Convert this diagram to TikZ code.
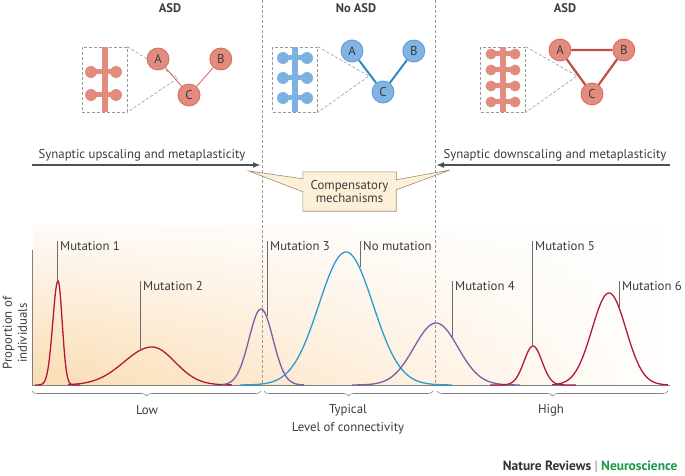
\documentclass[tikz,border=0pt]{standalone}
\usepackage{fontspec}
\setmainfont{PT Sans}
\usepackage{xcolor}
\usetikzlibrary{positioning,arrows.meta,decorations.pathreplacing,fadings,calc}

\definecolor{txtgray}{HTML}{3C3C3C}
\definecolor{nodeR}{HTML}{E38C7D}
\definecolor{nodeRline}{HTML}{D06C60}
\definecolor{nodeB}{HTML}{80B5E3}
\definecolor{nodeBline}{HTML}{5B9AD2}
\definecolor{dendR}{HTML}{E38C7D}
\definecolor{dendB}{HTML}{7DB1E1}
\definecolor{edgeR}{HTML}{D2625B}
\definecolor{edgeRR}{HTML}{C64B45}
\definecolor{edgeB}{HTML}{2C8CC5}
\definecolor{boxgray}{HTML}{9A9A9A}
\definecolor{arrowgray}{HTML}{44525E}
\definecolor{callfill}{HTML}{FDF0D9}
\definecolor{callline}{HTML}{9C8B72}
\definecolor{bgorange}{HTML}{FBDCB2}
\definecolor{mutred}{HTML}{B1193B}
\definecolor{mutpurple}{HTML}{7D5DA7}
\definecolor{mutblue}{HTML}{2C9BD0}
\definecolor{nrgreen}{HTML}{1B9A4B}

\tikzfading[name=topwhite, top color=transparent!10, middle color=transparent!65, bottom color=transparent!100]

\begin{document}
\begin{tikzpicture}[x=1pt,y=-1pt,
  font=\fontsize{12.8}{13.5}\selectfont, text=txtgray,
  neuronR/.style={circle,draw=nodeRline,fill=nodeR,line width=0.8pt,minimum size=22pt,inner sep=0pt},
  neuronB/.style={circle,draw=nodeBline,fill=nodeB,line width=0.8pt,minimum size=22pt,inner sep=0pt},
  zoombox/.style={draw=boxgray,dash pattern=on 3pt off 2pt,line width=0.6pt,minimum width=45pt,minimum height=65pt,inner sep=0pt},
  zoomline/.style={draw=boxgray,dash pattern=on 3pt off 2pt,line width=0.6pt},
  divider/.style={draw=gray!80,dash pattern=on 3pt off 2pt,line width=0.6pt},
  synarrow/.style={draw=arrowgray,line width=1.6pt,-{Latex[length=8pt,width=6pt]}},
  curve/.style={line width=1.3pt},
  lblline/.style={draw=gray!85!black,line width=0.6pt},
  lbl/.style={anchor=west,inner sep=0pt},
  rangebrace/.style={draw=gray,line width=0.6pt,decorate,decoration={brace,mirror,amplitude=5pt}},
  head/.style={font=\bfseries\fontsize{12.5}{14}\selectfont}
]
\useasboundingbox (0,0) rectangle (685,476);

% background of the plot
\fill[left color=bgorange, middle color=bgorange!75, right color=white] (33,225) rectangle (668,385);
\fill[white, path fading=topwhite] (33,224) rectangle (668,386);

% panel dividers
\coordinate (d1t) at (262,0); \coordinate (d1b) at (262,385);
\coordinate (d2t) at (435,0); \coordinate (d2b) at (435,385);
\draw[divider] (d1t) -- (d1b);
\draw[divider] (d2t) -- (d2b);

% headers
\node[head] (hL) at (170,8) {ASD};
\node[head] (hM) at (356,8) {No ASD};
\node[head] (hR) at (565,8) {ASD};

% left panel
\node[zoombox] (boxL) at (104.5,79.5) {};
\draw[dendR,line width=6pt] (boxL.north) -- (boxL.south);
\foreach \y in {72,95} {
  \draw[dendR,line width=5pt] (91,\y) -- (116,\y);
  \fill[dendR] (91,\y) circle (6pt) (116,\y) circle (6pt);
}
\node[neuronR] (aL) at (158,59) {A};
\node[neuronR] (bL) [right=40pt of aL] {B};
\node[neuronR] (cL) at (189,95) {C};
\coordinate (zL) at (178,78);
\draw[zoomline] (boxL.north east) -- (zL) -- (boxL.south east);
\draw[edgeR,line width=0.8pt] (aL) -- (cL) (bL) -- (cL);

% middle panel
\node[zoombox] (boxM) at (295,79.5) {};
\draw[dendB,line width=6pt] (boxM.north) -- (boxM.south);
\foreach \y in {58,78,98} {
  \draw[dendB,line width=5pt] (283,\y) -- (307,\y);
  \fill[dendB] (283,\y) circle (6pt) (307,\y) circle (6pt);
}
\node[neuronB] (aM) at (352,51) {A};
\node[neuronB] (bM) [right=39pt of aM] {B};
\node[neuronB] (cM) at (383,92) {C};
\coordinate (zM) at (369,76);
\draw[zoomline] (boxM.north east) -- (zM) -- (boxM.south east);
\draw[edgeB,line width=2pt] (aM) -- (cM) (bM) -- (cM);

% right panel
\node[zoombox] (boxR) at (503,79.5) {};
\draw[dendR,line width=6pt] (boxR.north) -- (boxR.south);
\foreach \y in {54,70,86,102} {
  \draw[dendR,line width=5pt] (491,\y) -- (515,\y);
  \fill[dendR] (491,\y) circle (5.5pt) (515,\y) circle (5.5pt);
}
\node[neuronR] (aR) at (560,50) {A};
\node[neuronR] (bR) [right=41pt of aR] {B};
\node[neuronR] (cR) at (592,94) {C};
\coordinate (zR) at (577,76);
\draw[zoomline] (boxR.north east) -- (zR) -- (boxR.south east);
\draw[edgeRR,line width=2.2pt] (aR) -- (bR) -- (cR) -- (aR);

% scaling arrows
\coordinate (upS) at (32,165); \coordinate (upE) at (261,165);
\coordinate (dnS) at (670,165); \coordinate (dnE) at (436,165);
\draw[synarrow] (upS) -- (upE);
\draw[synarrow] (dnS) -- (dnE);
\node (upTxt) at (142,155) {Synaptic upscaling and metaplasticity};
\node (dnTxt) at (555,155) {Synaptic downscaling and metaplasticity};

% compensatory callout
\node[minimum width=93pt,minimum height=39pt,inner sep=0pt,align=center] (comp) at (349.5,191.5) {};
\coordinate (tipL) at (249,171);
\coordinate (tipR) at (450,170);
\filldraw[fill=callfill,draw=callline,line width=0.6pt]
  (comp.north west) -- (comp.north east) -- ($(comp.north east)+(0,8)$) -- (tipR)
  -- ($(comp.north east)+(0,18)$) -- (comp.south east) -- (comp.south west)
  -- ($(comp.north west)+(0,20)$) -- (tipL) -- ($(comp.north west)+(0,7)$) -- cycle;
\node[align=center] (compTxt) at (comp.center) {Compensatory\\mechanisms};

% axes
\coordinate (org) at (32,385);
\coordinate (ytop) at (32,250);
\coordinate (xend) at (670,385);
\draw[gray,line width=0.8pt] (ytop) -- (org) -- (xend);
\node[rotate=90,align=center,font=\fontsize{12.8}{15}\selectfont] (ylab) at (15,333) {Proportion of\\individuals};

% distributions
\draw[curve,mutred] plot[domain=35:80,samples=120,smooth] (\x,{385-104*exp(-((\x-58)^2)/(2*(\x<58?5.2:4.2)^2))});
\draw[curve,mutred] plot[domain=68:232,samples=100,smooth] (\x,{385-38*exp(-((\x-152)^2)/(2*(\x<152?28:23)^2))});
\draw[curve,mutpurple] plot[domain=222:304,samples=80,smooth] (\x,{385-76*exp(-((\x-261)^2)/(2*12^2))});
\draw[curve,mutblue] plot[domain=240:452,samples=120,smooth] (\x,{385-133*exp(-((\x-346)^2)/(2*27^2))});
\draw[curve,mutpurple] plot[domain=352:520,samples=100,smooth] (\x,{385-62*exp(-((\x-436)^2)/(2*22^2))});
\draw[curve,mutred] plot[domain=490:576,samples=80,smooth] (\x,{385-39*exp(-((\x-533)^2)/(2*9^2))});
\draw[curve,mutred] plot[domain=552:668,samples=100,smooth] (\x,{385-92*exp(-((\x-609)^2)/(2*17^2))});

% labels
\node[lbl] (m1) at (60,246) {Mutation 1};
\node[lbl] (m2) at (143,286) {Mutation 2};
\node[lbl] (m3) at (270,246) {Mutation 3};
\node[lbl] (m0) at (363,246) {No mutation};
\node[lbl] (m4) at (455,286) {Mutation 4};
\node[lbl] (m5) at (535,246) {Mutation 5};
\node[lbl] (m6) at (622,286) {Mutation 6};
\coordinate (p1) at (57,281);
\coordinate (p2) at (140,350);
\coordinate (p3) at (267,316);
\coordinate (p0) at (360,267);
\coordinate (p4) at (452,337);
\coordinate (p5) at (532,346);
\coordinate (p6) at (619,307);
\foreach \m/\p/\x in {m1/p1/57,m2/p2/140,m3/p3/267,m0/p0/360,m4/p4/452,m5/p5/532,m6/p6/619}
  \draw[lblline] (\x,0 |- \m.north) -- (\p);

% ranges
\draw[rangebrace] (32,391) -- (261,391);
\draw[rangebrace] (264,391) -- (433,391);
\draw[rangebrace] (437,391) -- (668,391);
\node (low) at (147,410) {Low};
\node (typ) at (348,410) {Typical};
\node (high) at (551,410) {High};
\node (xlab) at (348,428) {Level of connectivity};

% journal
\node[anchor=east,font=\bfseries\fontsize{13.4}{15}\selectfont,text=black!80] (journal) at (681,467)
  {Nature Reviews \textcolor{gray}{\mdseries|} \textcolor{nrgreen}{Neuroscience}};
\end{tikzpicture}
\end{document}
